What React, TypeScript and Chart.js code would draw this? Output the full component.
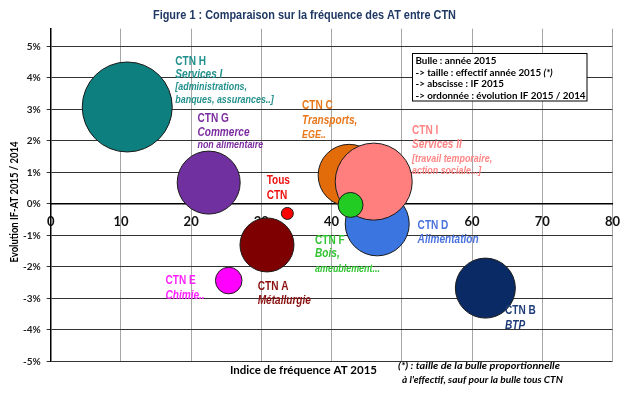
import React, { useEffect, useRef } from "react";
import { Chart, registerables } from "chart.js";

Chart.register(...registerables);

// ---- Data ----
const ctnNames = ["CTN H", "CTN G", "CTN A", "CTN E", "CTN B", "Tous CTN", "CTN D", "CTN C", "CTN I", "CTN F"];
const ifValues = [10.9, 22.5, 30.8, 25.35, 61.9, 33.7, 46.5, 42.5, 46.0, 42.7];
const evolValues = [3.08, 0.68, -1.3, -2.43, -2.67, -0.3, -0.63, 0.91, 0.71, -0.03];
const bubbleRadius = [45, 31.5, 27, 13.3, 30, 6, 32, 31, 38.5, 12.5];
const bubbleColors = ["#0E7F7F", "#7030A0", "#7F0000", "#FF00FF", "#0A2A66", "#FF0000", "#3A75E0", "#E36C0A", "#FF7F7F", "#22CC22"];
const xTickValues = [0, 10, 20, 30, 40, 50, 60, 70, 80];
const yTickValues = [-5, -4, -3, -2, -1, 0, 1, 2, 3, 4, 5];

// label anchors in data units (first line), with lines
type Line = { t: string; kind: "name" | "sector" | "detail"; dy: number };
const bubbleLabels: { x: number; y: number; color: string; lines: Line[] }[] = [
  { x: 17.75, y: 4.51, color: "#22908C", lines: [
    { t: "CTN H", kind: "name", dy: 0 },
    { t: "Services I", kind: "sector", dy: 12.5 },
    { t: "[administrations,", kind: "detail", dy: 25.5 },
    { t: "banques, assurances..]", kind: "detail", dy: 38 },
  ] },
  { x: 20.9, y: 2.7, color: "#7B2C9E", lines: [
    { t: "CTN G", kind: "name", dy: 0 },
    { t: "Commerce", kind: "sector", dy: 13.5 },
    { t: "non alimentaire", kind: "detail", dy: 26.5 },
  ] },
  { x: 35.8, y: 3.11, color: "#E8771A", lines: [
    { t: "CTN C", kind: "name", dy: 0 },
    { t: "Transports,", kind: "sector", dy: 15 },
    { t: "EGE..", kind: "detail", dy: 29 },
  ] },
  { x: 51.45, y: 2.33, color: "#FF8585", lines: [
    { t: "CTN I", kind: "name", dy: 0 },
    { t: "Services II", kind: "sector", dy: 14.5 },
    { t: "[travail temporaire,", kind: "detail", dy: 28 },
    { t: "action sociale...]", kind: "detail", dy: 40.5 },
  ] },
  { x: 30.75, y: 0.73, color: "#EE1111", lines: [
    { t: "Tous", kind: "name", dy: 0 },
    { t: "CTN", kind: "name", dy: 14.3 },
  ] },
  { x: 37.65, y: -1.16, color: "#33C433", lines: [
    { t: "CTN F", kind: "name", dy: 0 },
    { t: "Bois,", kind: "sector", dy: 13 },
    { t: "ameublement...", kind: "detail", dy: 28.5 },
  ] },
  { x: 52.25, y: -0.68, color: "#4A72DD", lines: [
    { t: "CTN D", kind: "name", dy: 0 },
    { t: "Alimentation", kind: "sector", dy: 14 },
  ] },
  { x: 16.34, y: -2.45, color: "#FF22FF", lines: [
    { t: "CTN E", kind: "name", dy: 0 },
    { t: "Chimie..", kind: "sector", dy: 14.2 },
  ] },
  { x: 29.48, y: -2.64, color: "#8B1010", lines: [
    { t: "CTN A", kind: "name", dy: 0 },
    { t: "Métallurgie", kind: "sector", dy: 14 },
  ] },
  { x: 64.69, y: -3.39, color: "#1F3C78", lines: [
    { t: "CTN B", kind: "name", dy: 0 },
    { t: "BTP", kind: "sector", dy: 14.7 },
  ] },
];

const titleText = "Figure 1 : Comparaison sur la fréquence des AT entre CTN";
const xTitle = "Indice de fréquence AT 2015";
const yTitle = "Evolution IF-AT 2015 / 2014";
const legendLines = ["Bulle : année 2015", "-> taille : effectif année 2015 ", "-> abscisse : IF 2015", "-> ordonnée : évolution IF 2015 / 2014"];
const footnoteLines = ["(*) : taille de la bulle proportionnelle", "à l'effectif, sauf pour la bulle tous CTN"];

const NARROW = 0.84;

function drawText(
  ctx: CanvasRenderingContext2D,
  text: string,
  x: number,
  y: number,
  font: string,
  color: string,
  align: CanvasTextAlign,
  opts: { width?: number; sx?: number } = {}
) {
  ctx.save();
  ctx.font = font;
  ctx.fillStyle = color;
  ctx.textBaseline = "middle";
  ctx.textAlign = align;
  const w = ctx.measureText(text).width;
  const s = opts.width ? opts.width / w : opts.sx ?? 1;
  ctx.translate(x, y);
  ctx.scale(s, 1);
  ctx.fillText(text, 0, 0);
  ctx.restore();
  return w * s;
}

const annotationPlugin = {
  id: "annotations",
  afterDraw(chart: any) {
    const ctx: CanvasRenderingContext2D = chart.ctx;
    const xs = chart.scales.x;
    const ys = chart.scales.y;
    // title
    drawText(ctx, titleText, 304.5, 16, "bold 12px 'Liberation Sans', Arial, sans-serif", "#1F3864", "center", { width: 303 });
    // bubble labels
    const fonts = {
      name: "bold 12px 'Liberation Sans', Arial, sans-serif",
      sector: "italic bold 12px 'Liberation Sans', Arial, sans-serif",
      detail: "italic bold 10.6px 'Liberation Sans', Arial, sans-serif",
    };
    for (const lab of bubbleLabels) {
      const px = xs.getPixelForValue(lab.x);
      const py = ys.getPixelForValue(lab.y);
      for (const ln of lab.lines) {
        drawText(ctx, ln.t, px, py + ln.dy, fonts[ln.kind], lab.color, "left", { sx: NARROW });
      }
    }
    // legend box
    ctx.save();
    ctx.fillStyle = "#ffffff";
    ctx.fillRect(412.5, 53.5, 174.5, 47.5);
    ctx.strokeStyle = "#000";
    ctx.lineWidth = 1;
    ctx.strokeRect(412.5, 53.5, 174.5, 47.5);
    ctx.restore();
    const lf = "bold 10px Lato, sans-serif";
    ctx.save();
    ctx.font = lf;
    const longest = ctx.measureText(legendLines[3]).width;
    ctx.restore();
    const lsx = 170 / longest;
    const ly = [60.5, 72.3, 84.1, 95.9];
    legendLines.forEach((t, i) => {
      const w = drawText(ctx, t, 415.5, ly[i], lf, "#000", "left", { sx: lsx });
      if (i === 1) drawText(ctx, "(*)", 415.5 + w, ly[i], "italic bold 10px Lato, sans-serif", "#000", "left", { sx: lsx });
    });
    // axis titles
    drawText(ctx, xTitle, 303.5, 370, "bold 11px Lato, sans-serif", "#000", "center", { width: 147 });
    ctx.save();
    ctx.translate(14, 202);
    ctx.rotate(-Math.PI / 2);
    drawText(ctx, yTitle, 0, 0, "bold 11px Lato, sans-serif", "#000", "center", { width: 121 });
    ctx.restore();
    // footnote
    drawText(ctx, footnoteLines[0], 398, 366, "italic bold 9px Lato, sans-serif", "#000", "left", { width: 162 });
    drawText(ctx, footnoteLines[1], 402, 380.5, "italic bold 9px Lato, sans-serif", "#000", "left", { width: 161 });
  },
};

export default function App() {
  const ref = useRef<HTMLCanvasElement | null>(null);
  useEffect(() => {
    if (!ref.current) return;
    const chart = new Chart(ref.current, {
      type: "bubble",
      data: {
        datasets: [
          {
            label: "CTN",
            data: ifValues.map((x, i) => ({ x, y: evolValues[i], r: bubbleRadius[i] })),
            backgroundColor: bubbleColors,
            borderColor: "#1a1a1a",
            borderWidth: 1,
            hoverRadius: 0,
            clip: false as any,
          },
        ],
      },
      options: {
        responsive: false,
        animation: false,
        events: [],
        layout: { autoPadding: false, padding: { left: 0, right: 11.3, top: 28.7, bottom: 34.5 } },
        plugins: { legend: { display: false }, tooltip: { enabled: false }, title: { display: false } },
        scales: {
          x: {
            type: "linear",
            min: 0,
            max: 80,
            position: { y: 0 } as any,
            afterBuildTicks: (s: any) => {
              s.ticks = xTickValues.map((v) => ({ value: v }));
            },
            grid: { color: "#a6a6a6", lineWidth: 1, drawTicks: false },
            border: { color: "#000", width: 1.5 },
            ticks: { padding: 10, color: "#111", font: { family: "Lato", weight: "bold", size: 13 } },
          },
          y: {
            type: "linear",
            min: -5,
            max: 5.565,
            afterFit: (s: any) => {
              s.width = 50.7;
            },
            afterBuildTicks: (s: any) => {
              s.ticks = yTickValues.map((v) => ({ value: v }));
            },
            grid: { color: "#333", lineWidth: 1, tickLength: 4 },
            border: { color: "#000", width: 1.5 },
            ticks: {
              padding: 6,
              color: "#222",
              font: { family: "Lato", weight: "bold", size: 10 },
              callback: (v: any) => `${v}%`,
            },
          },
        },
      },
      plugins: [annotationPlugin],
    });
    return () => chart.destroy();
  }, []);
  return (
    <div style={{ position: "fixed", left: 0, top: 0, width: 630, height: 396, background: "#fff" }}>
      <canvas ref={ref} width={630} height={396} style={{ display: "block" }} />
    </div>
  );
}
